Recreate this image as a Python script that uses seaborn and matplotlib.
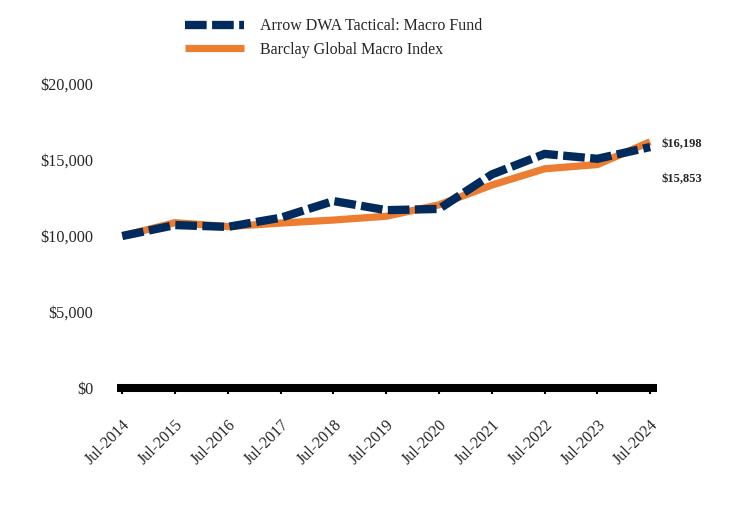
import matplotlib
matplotlib.use("Agg")
import matplotlib.pyplot as plt
import seaborn as sns
import pandas as pd
from matplotlib.ticker import FuncFormatter

periods = ["Jul-2014", "Jul-2015", "Jul-2016", "Jul-2017", "Jul-2018", "Jul-2019",
           "Jul-2020", "Jul-2021", "Jul-2022", "Jul-2023", "Jul-2024"]
fund_values = [10000, 10720, 10600, 11200, 12300, 11700, 11780, 14050, 15400, 15080, 15853]
index_values = [10000, 10880, 10620, 10850, 11050, 11300, 12050, 13350, 14420, 14700, 16198]
fund_name = "Arrow DWA Tactical: Macro Fund"
index_name = "Barclay Global Macro Index"
y_ticks = [0, 5000, 10000, 15000, 20000]

navy = "#002B5C"
orange = "#ED7D31"

sns.set_theme(style="white")
plt.rcParams["font.family"] = ["Liberation Serif", "DejaVu Serif"]

df = pd.DataFrame({"pos": list(range(len(periods))), "fund": fund_values, "index": index_values})

fig = plt.figure(figsize=(7.44, 5.16), dpi=100)
ax = fig.add_axes([117/744, 1-388/516, (657-117)/744, (388-84)/516])

sns.lineplot(data=df, x="pos", y="index", ax=ax, color=orange, linewidth=5.2,
             label=index_name, zorder=2)
sns.lineplot(data=df, x="pos", y="fund", ax=ax, color=navy, linewidth=6,
             label=fund_name, zorder=3)
ax.lines[0].set_solid_capstyle("butt")
ax.lines[0].set_solid_joinstyle("miter")
ax.lines[1].set_dashes([2.6, 0.65])
ax.lines[1].set_dash_capstyle("butt")
ax.lines[1].set_dash_joinstyle("miter")

ax.set_xlim(-0.1, 10.13)
ax.set_ylim(0, 20000)
ax.set_xticks(range(len(periods)))
ax.set_xticklabels(periods, rotation=45, ha="right", rotation_mode="anchor", fontsize=11.5)
ax.set_yticks(y_ticks)
ax.yaxis.set_major_formatter(FuncFormatter(lambda v, p: f"${v:,.0f}"))
ax.tick_params(axis="y", length=0, pad=17, labelsize=11.7)
ax.tick_params(axis="x", length=4, width=1.5, color="black", direction="out", pad=17, bottom=True)
ax.set_xlabel("")
ax.set_ylabel("")
for s in ["left", "right", "top"]:
    ax.spines[s].set_visible(False)
ax.spines["bottom"].set_color("black")
ax.spines["bottom"].set_linewidth(5.8)
ax.spines["bottom"].set_capstyle("butt")
ax.grid(False)

ax.annotate(f"${index_values[-1]:,}", xy=(10, index_values[-1]), xytext=(8.5, -2),
            textcoords="offset points", fontsize=9, fontweight="bold", va="center", ha="left")
ax.annotate(f"${fund_values[-1]:,}", xy=(10, fund_values[-1]), xytext=(8.5, -23),
            textcoords="offset points", fontsize=9, fontweight="bold", va="center", ha="left")

handles, labels = ax.get_legend_handles_labels()
order = [1, 0]
ax.get_legend().remove()
leg = fig.legend([handles[i] for i in order], [labels[i] for i in order],
                 loc="upper left", bbox_to_anchor=(171/744, 1-4/516), frameon=False,
                 fontsize=11.5, handlelength=3.7, handletextpad=1.0, labelspacing=0.45)

fig.savefig("out.png", dpi=100)
